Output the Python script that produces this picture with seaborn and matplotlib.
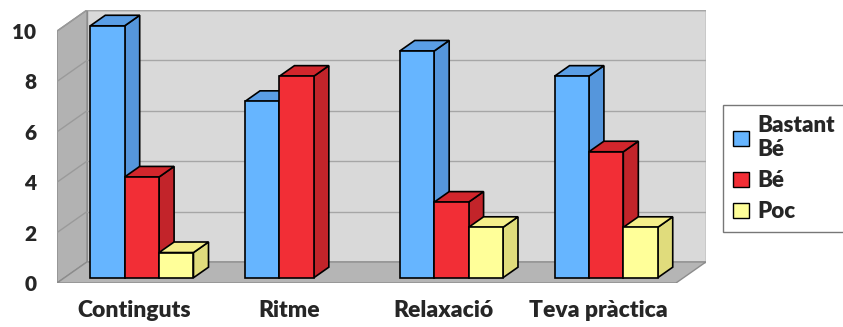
import matplotlib
matplotlib.use('Agg')
import matplotlib.pyplot as plt
from matplotlib.patches import Polygon, Patch
import pandas as pd
import seaborn as sns

# data
categories = ['Continguts', 'Ritme', 'Relaxació', 'Teva pràctica']
series = ['Bastant\nBé', 'Bé', 'Poc']
bastant_be = [10, 7, 9, 8]
be = [4, 8, 3, 5]
poc = [1, 0, 2, 2]
yticks = [0, 2, 4, 6, 8, 10]

front_colors = ['#66b5ff', '#f22e36', '#ffff99']
side_colors = ['#5596dc', '#c2242a', '#e0dc7c']
top_colors = ['#5a9ee6', '#d2262c', '#f5ef8a']

df = pd.DataFrame({
    'cat': categories * 3,
    'serie': [s for s in series for _ in categories],
    'val': bastant_be + be + poc,
})

sns.set_theme(style='white')
plt.rcParams['font.family'] = ['Lato', 'DejaVu Sans']

# depth of the fake 3d box, in data units
DX, DY = 0.194, 0.837

fig = plt.figure(figsize=(8.43, 3.27), dpi=100)
ax = fig.add_axes([57 / 843, 44 / 327, 649 / 843, 273 / 327])

x0, x1 = -0.5, len(categories) - 0.5
ytop = max(yticks)

# walls and floor
ax.add_patch(Polygon([(x0 + DX, DY), (x1 + DX, DY), (x1 + DX, ytop + DY), (x0 + DX, ytop + DY)],
                     closed=True, fc='#d9d9d9', ec='#8c8c8c', lw=1, zorder=0))
ax.add_patch(Polygon([(x0, 0), (x0 + DX, DY), (x0 + DX, ytop + DY), (x0, ytop)],
                     closed=True, fc='#b2b2b2', ec='#8c8c8c', lw=1, zorder=0))
ax.add_patch(Polygon([(x0, 0), (x1, 0), (x1 + DX, DY), (x0 + DX, DY)],
                     closed=True, fc='#b5b5b5', ec='#8c8c8c', lw=1, zorder=0))
for v in yticks[1:]:
    ax.plot([x0 + DX, x1 + DX], [v + DY, v + DY], color='#a6a6a6', lw=1, zorder=1)
    ax.plot([x0, x0 + DX], [v, v + DY], color='#9a9a9a', lw=1, zorder=1)

sns.barplot(data=df, x='cat', y='val', hue='serie', order=categories, hue_order=series,
            palette=front_colors, width=0.667, saturation=1, legend=False,
            edgecolor='black', linewidth=1.2, ax=ax)

# push the front faces into the box and add sides / tops
for i, cont in enumerate(ax.containers):
    for bar in cont:
        h = bar.get_height()
        bar.set_x(bar.get_x() + 0.25 * DX)
        bar.set_y(0.25 * DY)
        bar.set_zorder(4 + 2 * i)
        if h <= 0:
            bar.set_visible(False)
            continue
        xl = bar.get_x()
        xr = xl + bar.get_width()
        yb = 0.25 * DY
        yt = h + 0.25 * DY
        ax.add_patch(Polygon([(xr, yb), (xr + 0.5 * DX, yb + 0.5 * DY),
                              (xr + 0.5 * DX, yt + 0.5 * DY), (xr, yt)],
                             closed=True, fc=side_colors[i], ec='black', lw=1.2, zorder=3 + 2 * i))
        ax.add_patch(Polygon([(xl, yt), (xr, yt), (xr + 0.5 * DX, yt + 0.5 * DY),
                              (xl + 0.5 * DX, yt + 0.5 * DY)],
                             closed=True, fc=top_colors[i], ec='black', lw=1.2, zorder=3 + 2 * i))

ax.set_xlim(x0, x1 + DX)
ax.set_ylim(0, ytop + DY)
ax.set_yticks(yticks)
ax.set_yticklabels([str(v) for v in yticks], fontsize=15, fontweight='heavy')
ax.set_xticks(range(len(categories)))
ax.set_xticklabels(categories, fontsize=16.5, fontweight='heavy')
ax.tick_params(axis='y', length=0, pad=15)
ax.tick_params(axis='x', length=0, pad=12)
ax.set_xlabel('')
ax.set_ylabel('')
for s in ax.spines.values():
    s.set_visible(False)

handles = [Patch(fc=c, ec='black', lw=1) for c in front_colors]
leg = fig.legend(handles, series, loc='upper left', bbox_to_anchor=(723 / 843, 1 - 105 / 327),
                 borderaxespad=0, frameon=True, fancybox=False, fontsize=16,
                 handlelength=0.7, handleheight=0.7, handletextpad=0.4,
                 labelspacing=0.45, borderpad=0.45)
leg.get_frame().set_edgecolor('#555555')
leg.get_frame().set_linewidth(1)
for t in leg.get_texts():
    t.set_fontweight('heavy')

fig.savefig('out.png', dpi=100)
